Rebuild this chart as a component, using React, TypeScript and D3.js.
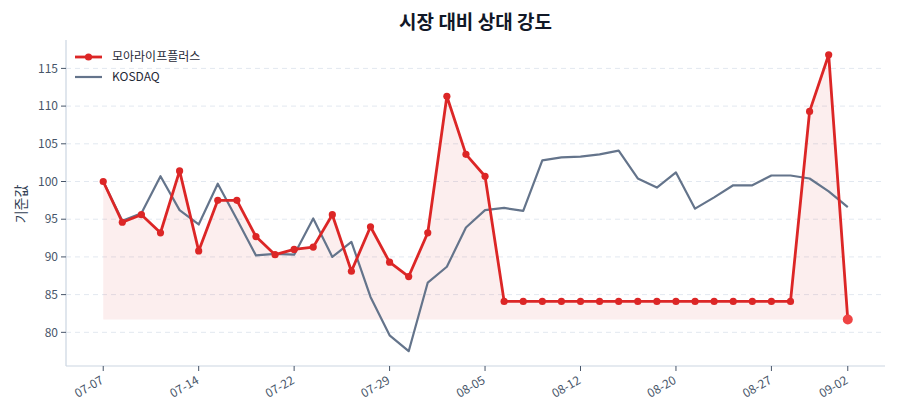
import React from "react";
import * as d3 from "d3";

const dates: string[] = [
  "07-07", "07-08", "07-09", "07-10", "07-11",
  "07-14", "07-15", "07-16", "07-17", "07-18",
  "07-22", "07-23", "07-24", "07-25", "07-28",
  "07-29", "07-30", "07-31", "08-01", "08-04",
  "08-05", "08-06", "08-07", "08-08", "08-11",
  "08-12", "08-13", "08-14", "08-18", "08-19",
  "08-20", "08-21", "08-22", "08-25", "08-26",
  "08-27", "08-28", "08-29", "09-01", "09-02",
];

const stock: number[] = [
  100.0, 94.6, 95.6, 93.2, 101.4, 90.8, 97.5, 97.5, 92.7, 90.3,
  91.0, 91.3, 95.6, 88.1, 94.0, 89.3, 87.4, 93.2, 111.3, 103.6,
  100.7, 84.1, 84.1, 84.1, 84.1, 84.1, 84.1, 84.1, 84.1, 84.1,
  84.1, 84.1, 84.1, 84.1, 84.1, 84.1, 84.1, 109.3, 116.8, 81.7,
];

const kosdaq: number[] = [
  100.0, 94.8, 95.8, 100.7, 96.2, 94.3, 99.7, 95.0, 90.2, 90.4,
  90.3, 95.1, 90.0, 92.0, 84.7, 79.6, 77.5, 86.6, 88.7, 93.9,
  96.2, 96.5, 96.1, 102.8, 103.2, 103.3, 103.6, 104.1, 100.4, 99.2,
  101.2, 96.4, 97.9, 99.5, 99.5, 100.8, 100.8, 100.4, 98.7, 96.6,
];

const yTicks: number[] = [80, 85, 90, 95, 100, 105, 110, 115];
const xTickIdx: number[] = [0, 5, 10, 15, 20, 25, 30, 35, 39];

const seriesNames = ["모아라이프플러스", "KOSDAQ"];

const W = 900;
const H = 420;
const M = { left: 66, right: 15, top: 40, bottom: 54 };
const FONT = "'Noto Sans CJK KR', 'Noto Sans', sans-serif";
const RED = "#dc2626";
const GRAY = "#64748b";

export default function App() {
  const n = dates.length;
  const xPad = (n - 1) * 0.05;
  const x = d3
    .scaleLinear()
    .domain([-xPad, n - 1 + xPad])
    .range([M.left, W - M.right]);
  const all = [...stock, ...kosdaq];
  const lo = d3.min(all) as number;
  const hi = d3.max(all) as number;
  const yPad = (hi - lo) * 0.05;
  const y = d3
    .scaleLinear()
    .domain([lo - yPad, hi + yPad])
    .range([H - M.bottom, M.top]);

  const stockMin = d3.min(stock) as number;
  const line = d3
    .line<number>()
    .x((_, i) => x(i))
    .y((d) => y(d));
  const area = d3
    .area<number>()
    .x((_, i) => x(i))
    .y0(() => y(stockMin))
    .y1((d) => y(d));

  const bottom = H - M.bottom;
  const last = stock.length - 1;

  return (
    <svg
      width={W}
      height={H}
      style={{ position: "absolute", left: 0, top: 0, background: "#fff" }}
      fontFamily={FONT}
    >
      {/* grid */}
      {yTicks.map((t) => (
        <line
          key={"g" + t}
          x1={M.left}
          x2={W - M.right}
          y1={y(t)}
          y2={y(t)}
          stroke="#e2e8f0"
          strokeDasharray="5,4"
          strokeWidth={1}
        />
      ))}
      {/* area */}
      <path d={area(stock) || ""} fill={RED} fillOpacity={0.08} />
      {/* kosdaq */}
      <path d={line(kosdaq) || ""} fill="none" stroke={GRAY} strokeWidth={2.2} strokeLinejoin="round" />
      {/* stock */}
      <path d={line(stock) || ""} fill="none" stroke={RED} strokeWidth={2.8} strokeLinejoin="round" />
      {stock.slice(0, last).map((v, i) => (
        <circle key={"m" + i} cx={x(i)} cy={y(v)} r={3.6} fill={RED} />
      ))}
      <circle cx={x(last)} cy={y(stock[last])} r={5} fill="#ef4444" />

      {/* spines */}
      <line x1={M.left} x2={M.left} y1={M.top} y2={bottom} stroke="#cbd5e1" strokeWidth={1.2} />
      <line x1={M.left} x2={W - M.right} y1={bottom} y2={bottom} stroke="#cbd5e1" strokeWidth={1.2} />

      {/* y ticks */}
      {yTicks.map((t) => (
        <g key={"yt" + t}>
          <line x1={M.left - 5} x2={M.left} y1={y(t)} y2={y(t)} stroke="#475569" strokeWidth={1} />
          <text
            x={M.left - 8}
            y={y(t)}
            dy="0.35em"
            textAnchor="end"
            fontSize={12}
            fill="#475569"
          >
            {t}
          </text>
        </g>
      ))}
      {/* x ticks */}
      {xTickIdx.map((i) => (
        <g key={"xt" + i}>
          <line x1={x(i)} x2={x(i)} y1={bottom} y2={bottom + 5} stroke="#475569" strokeWidth={1} />
          <text
            transform={`translate(${x(i) - 1},${bottom + 13}) rotate(-30)`}
            textAnchor="end"
            dy="0.35em"
            fontSize={12}
            fill="#475569"
          >
            {dates[i]}
          </text>
        </g>
      ))}

      {/* y label */}
      <text
        transform={`translate(21,204) rotate(-90)`}
        textAnchor="middle"
        dy="0.35em"
        fontSize={14}
        fill="#334155"
      >
        기준값
      </text>

      {/* title */}
      <text
        x={(M.left + W - M.right) / 2}
        y={22}
        dy="0.35em"
        textAnchor="middle"
        fontSize={19}
        fontWeight="bold"
        fill="#111827"
      >
        시장 대비 상대 강도
      </text>

      {/* legend */}
      <g>
        <line x1={75} x2={102} y1={57} y2={57} stroke={RED} strokeWidth={2.8} />
        <circle cx={88.5} cy={57} r={3.6} fill={RED} />
        <text x={112} y={57} dy="0.35em" fontSize={12} fill="#1f2937">
          {seriesNames[0]}
        </text>
        <line x1={75} x2={102} y1={77} y2={77} stroke={GRAY} strokeWidth={2.2} />
        <text x={112} y={77} dy="0.35em" fontSize={12} fill="#1f2937">
          {seriesNames[1]}
        </text>
      </g>
    </svg>
  );
}
